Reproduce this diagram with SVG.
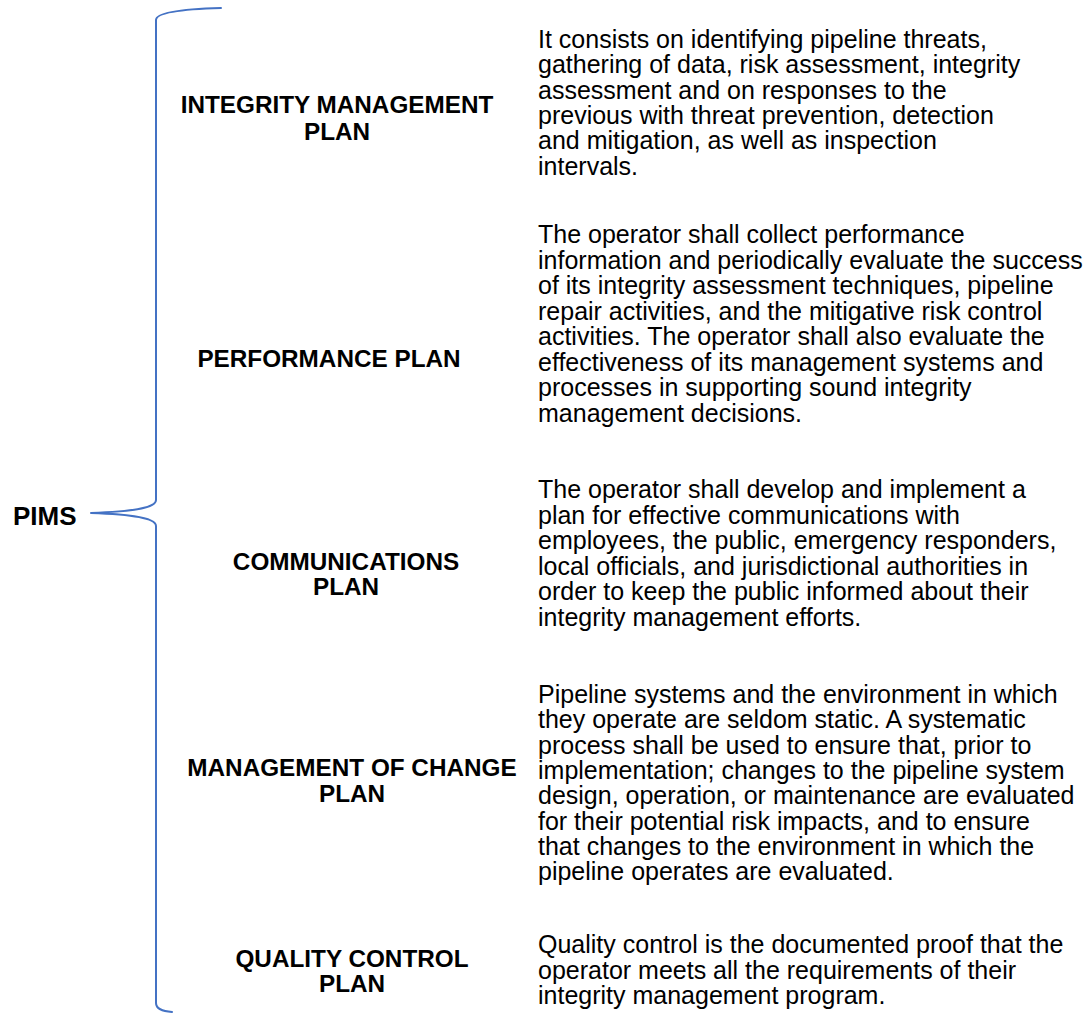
<svg xmlns="http://www.w3.org/2000/svg" width="1091" height="1013" viewBox="0 0 1091 1013">
  <style>
    .bg { fill: #ffffff; }
    .brace { fill: none; stroke: #4472C4; stroke-width: 2; stroke-linecap: round; stroke-linejoin: round; }
    .root { font-family: "Liberation Sans", Arial, sans-serif; font-weight: bold; font-size: 26px; fill: #000; }
    .label { font-family: "Liberation Sans", Arial, sans-serif; font-weight: bold; font-size: 24.3px; fill: #000; text-anchor: middle; }
    .desc { font-family: "Liberation Sans", Arial, sans-serif; font-size: 25px; fill: #000; }
  </style>
  <rect class="bg" x="0" y="0" width="1091" height="1013"/>

  <g id="connectors">
    <!-- curly brace fanning out from the root to the five plans -->
    <path class="brace" d="M221,8 C185,9 156,12 156,20 V500 C156,510 120,512 91,513 C120,514 156,516 156,526 V1003 C156,1009 162,1011 172,1012"/>
  </g>

  <g id="node-pims">
    <text class="root" x="13" y="525">PIMS</text>
  </g>

  <g id="node-integrity">
    <text class="label"><tspan x="337" y="113">INTEGRITY MANAGEMENT</tspan><tspan x="337" y="140">PLAN</tspan></text>
    <text class="desc" x="538" y="48">
      <tspan x="538" dy="0">It consists on identifying pipeline threats,</tspan>
      <tspan x="538" dy="25.3">gathering of data, risk assessment, integrity</tspan>
      <tspan x="538" dy="25.3">assessment and on responses to the</tspan>
      <tspan x="538" dy="25.3">previous with threat prevention, detection</tspan>
      <tspan x="538" dy="25.3">and mitigation, as well as inspection</tspan>
      <tspan x="538" dy="25.3">intervals.</tspan>
    </text>
  </g>

  <g id="node-performance">
    <text class="label" x="329" y="367">PERFORMANCE PLAN</text>
    <text class="desc" x="538" y="243">
      <tspan x="538" dy="0">The operator shall collect performance</tspan>
      <tspan x="538" dy="25.5">information and periodically evaluate the success</tspan>
      <tspan x="538" dy="25.5">of its integrity assessment techniques, pipeline</tspan>
      <tspan x="538" dy="25.5">repair activities, and the mitigative risk control</tspan>
      <tspan x="538" dy="25.5">activities. The operator shall also evaluate the</tspan>
      <tspan x="538" dy="25.5">effectiveness of its management systems and</tspan>
      <tspan x="538" dy="25.5">processes in supporting sound integrity</tspan>
      <tspan x="538" dy="25.5">management decisions.</tspan>
    </text>
  </g>

  <g id="node-communications">
    <text class="label"><tspan x="346" y="569.5">COMMUNICATIONS</tspan><tspan x="346" y="595">PLAN</tspan></text>
    <text class="desc" x="538" y="498">
      <tspan x="538" dy="0">The operator shall develop and implement a</tspan>
      <tspan x="538" dy="25.6">plan for effective communications with</tspan>
      <tspan x="538" dy="25.6">employees, the public, emergency responders,</tspan>
      <tspan x="538" dy="25.6">local officials, and jurisdictional authorities in</tspan>
      <tspan x="538" dy="25.6">order to keep the public informed about their</tspan>
      <tspan x="538" dy="25.6">integrity management efforts.</tspan>
    </text>
  </g>

  <g id="node-change">
    <text class="label"><tspan x="352" y="776">MANAGEMENT OF CHANGE</tspan><tspan x="352" y="802">PLAN</tspan></text>
    <text class="desc" x="538" y="703">
      <tspan x="538" dy="0">Pipeline systems and the environment in which</tspan>
      <tspan x="538" dy="25.3">they operate are seldom static. A systematic</tspan>
      <tspan x="538" dy="25.3">process shall be used to ensure that, prior to</tspan>
      <tspan x="538" dy="25.3">implementation; changes to the pipeline system</tspan>
      <tspan x="538" dy="25.3">design, operation, or maintenance are evaluated</tspan>
      <tspan x="538" dy="25.3">for their potential risk impacts, and to ensure</tspan>
      <tspan x="538" dy="25.3">that changes to the environment in which the</tspan>
      <tspan x="538" dy="25.3">pipeline operates are evaluated.</tspan>
    </text>
  </g>

  <g id="node-quality">
    <text class="label"><tspan x="352" y="967">QUALITY CONTROL</tspan><tspan x="352" y="992">PLAN</tspan></text>
    <text class="desc" x="538" y="953">
      <tspan x="538" dy="0">Quality control is the documented proof that the</tspan>
      <tspan x="538" dy="25.5">operator meets all the requirements of their</tspan>
      <tspan x="538" dy="25.5">integrity management program.</tspan>
    </text>
  </g>
</svg>
